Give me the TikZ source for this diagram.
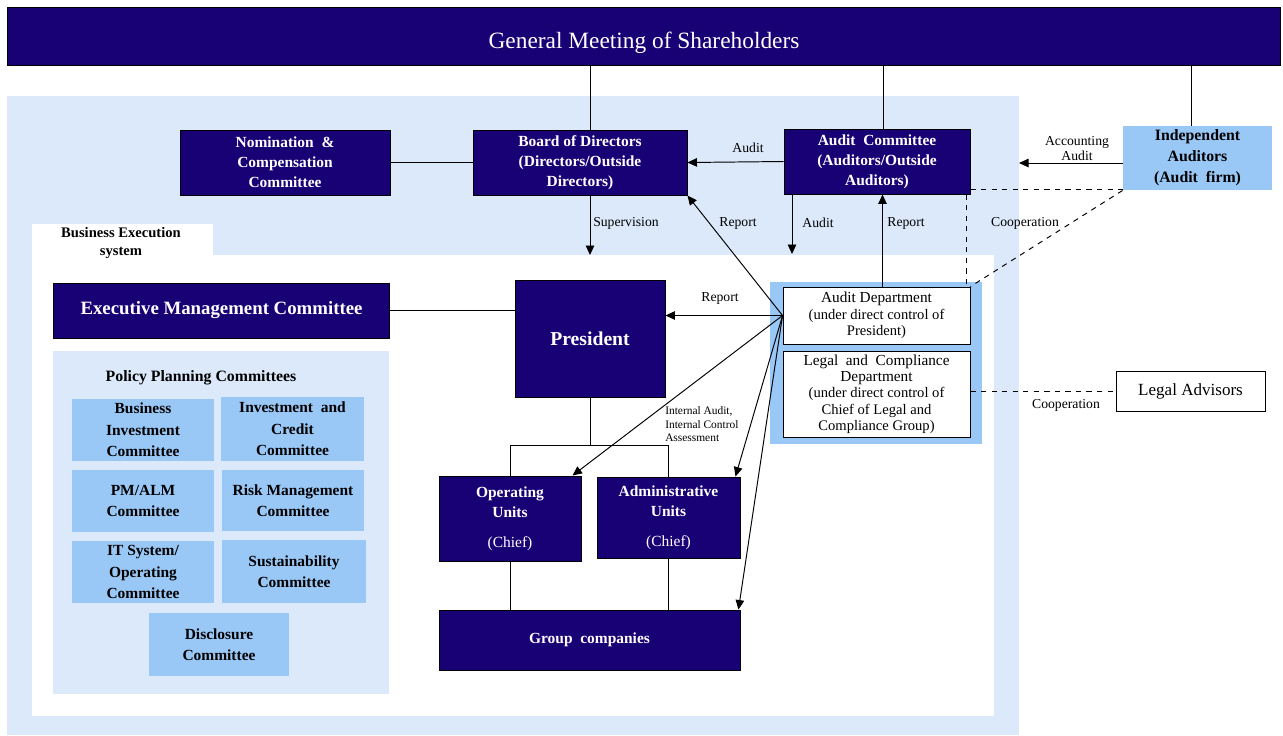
\documentclass[tikz,border=0pt]{standalone}
\usepackage{fontspec}
\setmainfont{Liberation Serif}
\usetikzlibrary{arrows.meta}
\definecolor{navy}{RGB}{24,0,117}
\definecolor{paleblue}{RGB}{219,233,250}
\definecolor{midblue}{RGB}{153,199,246}
\begin{document}
\begin{tikzpicture}[x=0.02cm,y=-0.02cm,line width=0.55pt,
    navybox/.style={draw=black,fill=navy,text=white,align=center,inner sep=1pt,
      font=\fontsize{8.8}{11.3}\selectfont\bfseries},
    bluebox/.style={fill=midblue,align=center,inner sep=1pt,
      font=\fontsize{8.8}{12.2}\selectfont\bfseries},
    whitebox/.style={draw=black,fill=white,align=center,inner sep=1pt,
      font=\fontsize{8.3}{9.3}\selectfont},
    lbl/.style={inner sep=1pt,font=\fontsize{7.8}{8.6}\selectfont},
    arr/.style={-{Triangle[length=1.9mm,width=1.7mm]}}]
  \useasboundingbox (0,0) rectangle (1283,735);
  % areas
  \fill[paleblue] (7,96) rectangle (1019,735);
  \fill[white] (32,255) rectangle (994,716);
  \fill[white] (32,224) rectangle (213,256);
  \fill[paleblue] (53,351) rectangle (389,694);
  \fill[midblue] (770,282) rectangle (982,444);
  \node[align=center,inner sep=0pt,font=\fontsize{8.3}{10}\selectfont\bfseries] (bes) at (121,243) {Business Execution\\system};
  \node[inner sep=0pt,font=\fontsize{9}{11}\selectfont\bfseries] (ppc) at (201,378) {Policy Planning Committees};
  % governance
  \node[navybox,minimum width=25.48cm,minimum height=1.16cm,text height=15pt,text depth=1pt,font=\fontsize{13.3}{15}\selectfont] (gms) at (644,36) {General Meeting of Shareholders};
  \node[navybox,minimum width=4.2cm,minimum height=1.3cm] (nom) at (285,162.5) {Nomination~~\&\\Compensation\\Committee};
  \node[navybox,minimum width=4.28cm,minimum height=1.3cm] (board) at (580,162.5) {Board of Directors\\(Directors/Outside\\Directors)};
  \node[navybox,minimum width=3.72cm,minimum height=1.3cm] (auditc) at (877,161.5) {Audit~ Committee\\(Auditors/Outside\\Auditors)};
  \node[bluebox,minimum width=2.98cm,minimum height=1.28cm,font=\fontsize{9}{11.9}\selectfont\bfseries] (indep) at (1197.5,158) {Independent\\Auditors\\(Audit~ firm)};
  % execution
  \node[navybox,minimum width=6.74cm,minimum height=1.1cm,font=\fontsize{10.7}{12}\selectfont\bfseries] (emc) at (221.5,310.5) {Executive Management Committee};
  \node[navybox,minimum width=3cm,minimum height=2.34cm,font=\fontsize{11.2}{13}\selectfont\bfseries] (pres) at (590,338.5) {President};
  \node[whitebox,minimum width=3.74cm,minimum height=1.14cm] (auditd) at (876.5,315.5) {{\fontsize{8.7}{9.3}\selectfont Audit Department}\\(under direct control of\\President)};
  \node[whitebox,minimum width=3.74cm,minimum height=1.72cm] (legal) at (876.5,394) {{\fontsize{8.7}{9.3}\selectfont Legal~ and~ Compliance}\\{\fontsize{8.7}{9.3}\selectfont Department}\\(under direct control of\\Chief of Legal and\\Compliance Group)};
  \node[whitebox,minimum width=2.98cm,minimum height=0.8cm,font=\fontsize{9.7}{11}\selectfont] (legaladv) at (1190.5,391) {Legal Advisors};
  \node[navybox,minimum width=2.84cm,minimum height=1.7cm] (opu) at (510,518.5) {Operating\\Units\\[0.2cm]\mdseries(Chief)};
  \node[navybox,minimum width=2.86cm,minimum height=1.62cm] (admu) at (668.5,517.5) {Administrative\\Units\\[0.2cm]\mdseries(Chief)};
  \node[navybox,minimum width=6.02cm,minimum height=1.2cm] (group) at (589.5,640) {Group~ companies};
  % policy planning committees
  \node[bluebox,minimum width=2.84cm,minimum height=1.24cm] (bizinv) at (143,430) {Business\\Investment\\Committee};
  \node[bluebox,minimum width=2.86cm,minimum height=1.28cm] (invcred) at (292.5,429) {Investment~ and\\Credit\\Committee};
  \node[bluebox,minimum width=2.84cm,minimum height=1.24cm] (pmalm) at (143,501) {PM/ALM\\Committee};
  \node[bluebox,minimum width=2.84cm,minimum height=1.22cm] (risk) at (293,500.5) {Risk Management\\Committee};
  \node[bluebox,minimum width=2.84cm,minimum height=1.24cm] (itsys) at (143,572) {IT System/\\Operating\\Committee};
  \node[bluebox,minimum width=2.88cm,minimum height=1.26cm] (sust) at (294,571.5) {Sustainability\\Committee};
  \node[bluebox,minimum width=2.8cm,minimum height=1.26cm] (discl) at (219,644.5) {Disclosure\\Committee};
  % free ends
  \coordinate (supend) at (590,255);
  \coordinate (auditend) at (792,254);
  \coordinate (acctend) at (1019,163);
  \coordinate (fork) at (590,445);
  % plain lines
  \draw (board.north -| pres) -- (gms.south -| pres);
  \draw ([xshift=0.12cm]auditc.north) -- ([xshift=0.12cm]auditc.north |- gms.south);
  \draw ([xshift=-0.13cm]indep.north) -- ([xshift=-0.13cm]indep.north |- gms.south);
  \draw (nom.east) -- (board.west);
  \draw (emc.east) -- (emc.east -| pres.west);
  \draw (pres.south) -- (fork);
  \draw (opu.north) |- (fork) -| (admu.north);
  \draw (opu.south) -- (opu.south |- group.north);
  \draw (admu.south) -- (admu.south |- group.north);
  % arrows
  \begin{scope}[arr]
    \draw (auditc.west) -- (board.east);
    \draw (indep.west |- acctend) -- (acctend);
    \draw (board.south -| pres) -- (supend);
    \draw (auditc.south -| auditend) -- (auditend);
    \draw ([xshift=0.12cm]auditd.north) -- ([xshift=0.12cm]auditc.south -| auditd.north);
    \draw (auditd.west) -- (board.south east);
    \draw (auditd.west) -- (auditd.west -| pres.east);
    \draw (auditd.west) -- ([xshift=-0.18cm]opu.north east);
    \draw (auditd.west) -- ([xshift=-0.1cm]admu.north east);
    \draw (auditd.west) -- ([xshift=-0.04cm]group.north east);
  \end{scope}
  \begin{scope}[dashed]
    \draw ([yshift=0.1cm]auditc.south east) -- ([yshift=0.1cm]auditc.south east -| indep.west);
    \draw ([xshift=-0.08cm]auditc.south east) -- ([xshift=-0.08cm]auditd.north east);
    \draw (indep.south west) -- (auditd.north east);
    \draw (legal.east |- legaladv) -- (legaladv.west);
  \end{scope}
  % labels
  \node[lbl] (l1) at (748,148) {Audit};
  \node[lbl,align=center] (l2) at (1077,148.5) {Accounting\\Audit};
  \node[lbl] (l3) at (626,223) {Supervision};
  \node[lbl] (l4) at (738,223) {Report};
  \node[lbl] (l5) at (818,223) {Audit};
  \node[lbl] (l6) at (906,223) {Report};
  \node[lbl] (l7) at (1025,223) {Cooperation};
  \node[lbl] (l8) at (720,298) {Report};
  \node[lbl] (l9) at (1066,405) {Cooperation};
  \node[lbl,anchor=north west,align=left,font=\fontsize{6.5}{7.9}\selectfont] (l10) at (663,404) {Internal Audit,\\Internal Control\\Assessment};
\end{tikzpicture}
\end{document}
